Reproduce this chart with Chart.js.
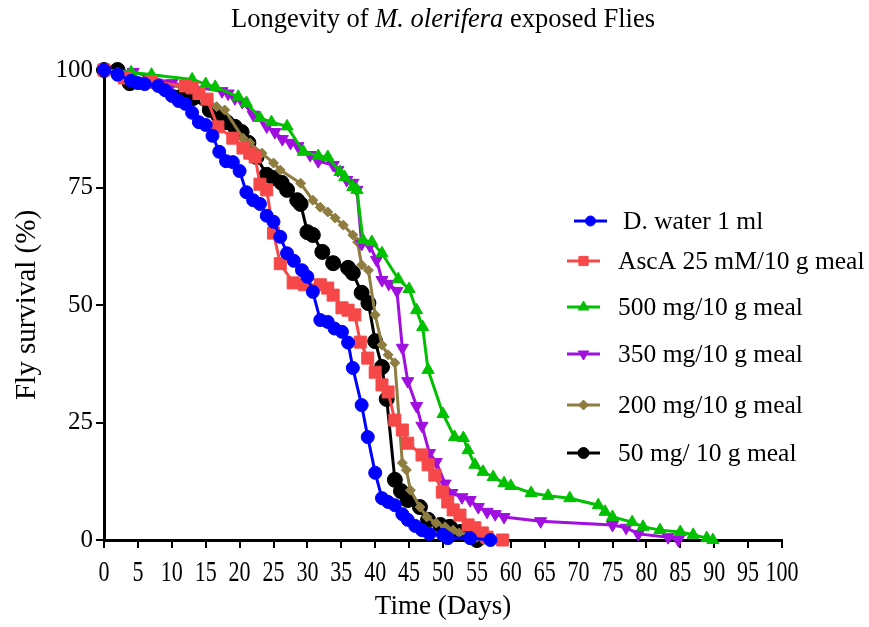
<!DOCTYPE html>
<html>
<head>
<meta charset="utf-8">
<script src="https://cdn.jsdelivr.net/npm/chart.js@4.4.0/dist/chart.umd.min.js"></script>
<style>
  html, body { margin: 0; padding: 0; background: #fff; }
</style>
</head>
<body>
<canvas id="survChart" width="869" height="627"></canvas>
<script>
// survival curves (day, % alive)
const waterDays = [0, 2, 4, 5, 6, 8, 9, 10, 11, 12, 13, 14, 15, 16, 17, 18, 19, 20, 21, 22, 23, 24, 25, 26, 27, 28, 29.2, 30, 30.8, 31.9, 33, 34, 35.1, 36, 36.7, 38, 38.9, 40, 41, 41.9, 42.9, 44, 44.8, 45.9, 46.9, 48, 50, 50.7, 54, 57];
const waterSurv = [100, 99, 97.7, 97.2, 97, 96.6, 95.7, 94.5, 93.4, 92.8, 90.9, 88.9, 88.3, 86, 82.6, 80.6, 80.4, 78.5, 74, 72.3, 71.5, 69, 67.7, 64.5, 61, 59.4, 57.4, 56, 52.8, 46.8, 46.4, 45, 44.3, 42, 36.6, 28.7, 21.9, 14.3, 8.9, 8.1, 7.4, 5.5, 4.3, 3, 2.1, 1.3, 1.1, 0.4, 0.4, 0];

const ascDays = [0, 3, 7, 12, 13, 14, 15.2, 16.8, 19, 20.5, 21.5, 22.3, 23, 24, 25, 26, 27.9, 29.6, 31.9, 33, 33.8, 35.1, 36, 37, 37.8, 38.9, 40, 41, 41.9, 42.9, 44, 44.8, 46.9, 47.8, 48.8, 49.9, 50.7, 51.5, 52.5, 53.7, 54.7, 55.8, 56.5, 58.8];
const ascSurv = [100, 98.3, 97.5, 96.6, 96.2, 95, 93.8, 87.9, 85.5, 83.4, 82.3, 81.5, 75.7, 74.5, 65.3, 58.8, 54.7, 54.3, 54.3, 53.6, 52.1, 49.4, 48.9, 47.9, 42.1, 38.7, 35.7, 33, 31.5, 25.5, 23.4, 20.6, 18.1, 16, 13.8, 10.2, 8.1, 6.4, 5.3, 3.2, 2.6, 1.5, 0.6, 0];

const m500Days = [0, 4, 7, 13, 15, 16.4, 19.8, 21, 23, 24.7, 27, 29.4, 31.6, 33, 34.8, 35.5, 36.7, 37.3, 38.2, 39.5, 41, 43.4, 45, 46.1, 47, 47.8, 50, 51.7, 53, 53.7, 54.7, 55.9, 57.4, 59, 60, 63, 65.5, 68.7, 72.9, 73.9, 75, 77.9, 79.5, 82, 85, 86.9, 88.9, 89.8];
const m500Surv = [100, 99.5, 99, 98, 97, 96.4, 94.3, 93, 89.8, 88.9, 88, 82.6, 81.7, 81.5, 78.3, 77.2, 75.1, 74.5, 63.8, 63.4, 61, 55.5, 53.4, 48.9, 45.3, 36.2, 26.8, 21.9, 21.7, 19.1, 16, 14.5, 13.4, 12.1, 11.5, 10, 9.4, 8.9, 7.4, 6, 4.9, 3.8, 2.8, 2.1, 1.7, 1.1, 0.4, 0];

const m350Days = [0, 4.3, 10, 17.4, 18.3, 19.3, 20.4, 22, 24, 25.2, 26.3, 27.5, 28.6, 30.4, 31.6, 33.8, 34.5, 35.8, 36.7, 37.3, 38, 39.2, 40.2, 41, 42, 43.2, 44, 44.8, 46.1, 46.9, 48, 49, 50.3, 51.3, 52.8, 54, 55.2, 56.5, 57.7, 59, 64.4, 75, 77, 78.8, 83.2, 84.7];
const m350Surv = [100, 99.6, 97.2, 95.5, 95, 94, 93.2, 90.5, 88, 86.8, 85.3, 84.5, 83.8, 81.9, 80.6, 79.8, 78.7, 76.6, 76, 74.5, 63, 62.6, 59.6, 55.3, 54.5, 53, 40.9, 33.8, 28.5, 24.3, 18.5, 16.6, 12, 10, 9.1, 8.5, 7, 6, 5.5, 4.9, 4, 3.2, 2.6, 1.3, 0.6, 0];

const m200Days = [0, 2, 6, 10, 14, 16.6, 17.8, 20.5, 21.5, 23.3, 25, 26, 29, 30.8, 31.9, 33, 34.1, 35.3, 36.7, 37.4, 38, 39, 40, 41, 41.9, 42.9, 44, 44.6, 45.2, 46.6, 47.6, 49, 50.3, 51.5, 52.4, 54, 55, 56];
const m200Surv = [100, 99.5, 98, 96.8, 95, 92.2, 91.5, 85.5, 84.5, 82.3, 80.2, 78.7, 75.9, 72.3, 70.8, 69.8, 68.5, 67, 64.9, 63.4, 58.5, 57.4, 47.9, 41.5, 39.4, 37.7, 16.4, 14.9, 10.6, 7, 4.9, 3.6, 2.8, 2.1, 1.5, 1.1, 0.6, 0];

const m50Days = [0, 2, 3.8, 12, 13.1, 15.6, 16.8, 18.1, 19.3, 20.3, 21.3, 22.5, 24, 25, 26.2, 27, 28.5, 29, 30, 30.8, 32.2, 33.8, 36, 36.7, 38, 39, 40, 41, 41.7, 42.9, 43.8, 44.8, 46.6, 47.8, 49.6, 51, 52.5, 54, 55];
const m50Surv = [100, 100, 97.2, 95.1, 94, 91.5, 90.4, 88.9, 87.9, 86.8, 84.5, 81.5, 77.7, 77, 76, 74.5, 72.3, 71.5, 65.5, 64.9, 61.3, 58.9, 57.9, 56.8, 52.6, 50.4, 42.3, 36.8, 30, 12.8, 10.4, 8.5, 7, 4.3, 3.2, 2.8, 1.7, 1.1, 0];

const seriesNames = ['D. water 1 ml', 'AscA 25 mM/10 g meal', '500 mg/10 g meal', '350 mg/10 g meal', '200 mg/10 g meal', '50 mg/ 10 g meal'];
const dayTicks = { min: 0, max: 100, step: 5 };
const survTicks = { min: 0, max: 100, step: 25 };

const SERIF = '"Liberation Serif", "Times New Roman", serif';

function toXY(xs, ys) {
  return xs.map((x, i) => ({ x: x, y: ys[i] }));
}

function makeSet(i, xs, ys, color, style, radius, rot) {
  return {
    label: seriesNames[i],
    data: toXY(xs, ys),
    showLine: true,
    borderColor: color,
    backgroundColor: color,
    borderWidth: 3,
    pointStyle: style,
    pointRadius: radius,
    pointRotation: rot || 0,
    pointBorderWidth: 1,
    pointBorderColor: color,
    pointBackgroundColor: color,
    clip: false
  };
}

// legend, title and the narrow x tick labels of the original
const extras = {
  id: 'extras',
  afterDraw(chart) {
    const ctx = chart.ctx;
    const rows = [221, 261, 307, 354, 405, 453];
    const legendRadius = [5, 6.5, 6, 6, 5, 5.5];
    ctx.save();
    chart.data.datasets.forEach((ds, i) => {
      const shift = i === 0 ? 7 : 0;
      const x1 = 567 + shift, x2 = 600 + shift, y = rows[i];
      ctx.strokeStyle = ds.borderColor;
      ctx.fillStyle = ds.borderColor;
      ctx.lineWidth = 3;
      ctx.beginPath();
      ctx.moveTo(x1, y);
      ctx.lineTo(x2, y);
      ctx.stroke();
      ctx.lineWidth = 1;
      Chart.helpers.drawPoint(ctx, {
        pointStyle: ds.pointStyle,
        radius: legendRadius[i],
        rotation: ds.pointRotation,
        borderWidth: 1
      }, (x1 + x2) / 2, y);
      ctx.fillStyle = '#000';
      ctx.font = '25.5px ' + SERIF;
      ctx.textBaseline = 'middle';
      ctx.textAlign = 'left';
      ctx.fillText(ds.label, 618 + (i === 0 ? 5 : 0), y + 1);
    });

    // title with italic species name
    const parts = [['Longevity of ', ''], ['M. olerifera', 'italic '], [' exposed Flies', '']];
    let total = 0;
    parts.forEach(p => { ctx.font = p[1] + '26.5px ' + SERIF; total += ctx.measureText(p[0]).width; });
    let x = 443 - total / 2;
    ctx.textBaseline = 'middle';
    parts.forEach(p => {
      ctx.font = p[1] + '26.5px ' + SERIF;
      ctx.fillText(p[0], x, 20);
      x += ctx.measureText(p[0]).width;
    });

    // x tick labels: tall, narrow digits
    const xs = chart.scales.x;
    ctx.textAlign = 'center';
    ctx.textBaseline = 'middle';
    ctx.font = '29px ' + SERIF;
    xs.ticks.forEach(t => {
      ctx.save();
      ctx.translate(xs.getPixelForValue(t.value), 573);
      ctx.scale(0.76, 1);
      ctx.fillText(String(t.value), 0, 0);
      ctx.restore();
    });
    ctx.restore();
  }
};

const ctx = document.getElementById('survChart').getContext('2d');
const survChart = new Chart(ctx, {
  type: 'scatter',
  data: {
    datasets: [
      makeSet(0, waterDays, waterSurv, '#0000ff', 'circle', 6.5),
      makeSet(1, ascDays, ascSurv, '#f64848', 'rect', 8.5),
      makeSet(2, m500Days, m500Surv, '#00c000', 'triangle', 7),
      makeSet(3, m350Days, m350Surv, '#a00ee0', 'triangle', 7, 180),
      makeSet(4, m200Days, m200Surv, '#8f7c40', 'rectRot', 5),
      makeSet(5, m50Days, m50Surv, '#000000', 'circle', 7.5)
    ]
  },
  options: {
    responsive: false,
    animation: false,
    layout: { padding: { top: 70, right: 87, left: 0, bottom: 0 } },
    plugins: {
      legend: { display: false },
      title: { display: false },
      tooltip: { enabled: false }
    },
    scales: {
      x: {
        type: 'linear',
        min: dayTicks.min,
        max: dayTicks.max,
        afterFit: (s) => { s.height = 87; },
        ticks: {
          stepSize: dayTicks.step,
          autoSkip: false,
          maxRotation: 0,
          minRotation: 0,
          display: false
        },
        border: { display: true, color: '#000', width: 3 },
        grid: { drawOnChartArea: false, drawTicks: true, tickLength: 8, color: '#000', lineWidth: 2 },
        title: {
          display: true,
          text: 'Time (Days)',
          color: '#000',
          font: { family: SERIF, size: 27 },
          padding: { top: 0, bottom: 4 }
        }
      },
      y: {
        type: 'linear',
        min: survTicks.min,
        max: survTicks.max,
        afterFit: (s) => { s.width = 104; },
        ticks: {
          stepSize: survTicks.step,
          padding: 3,
          color: '#000',
          font: { family: SERIF, size: 25 }
        },
        border: { display: true, color: '#000', width: 3 },
        grid: { drawOnChartArea: false, drawTicks: true, tickLength: 8, color: '#000', lineWidth: 2 },
        title: {
          display: true,
          text: 'Fly survival (%)',
          color: '#000',
          font: { family: SERIF, size: 29 },
          padding: { top: 10, bottom: 0 }
        }
      }
    }
  },
  plugins: [extras]
});
</script>
</body>
</html>
